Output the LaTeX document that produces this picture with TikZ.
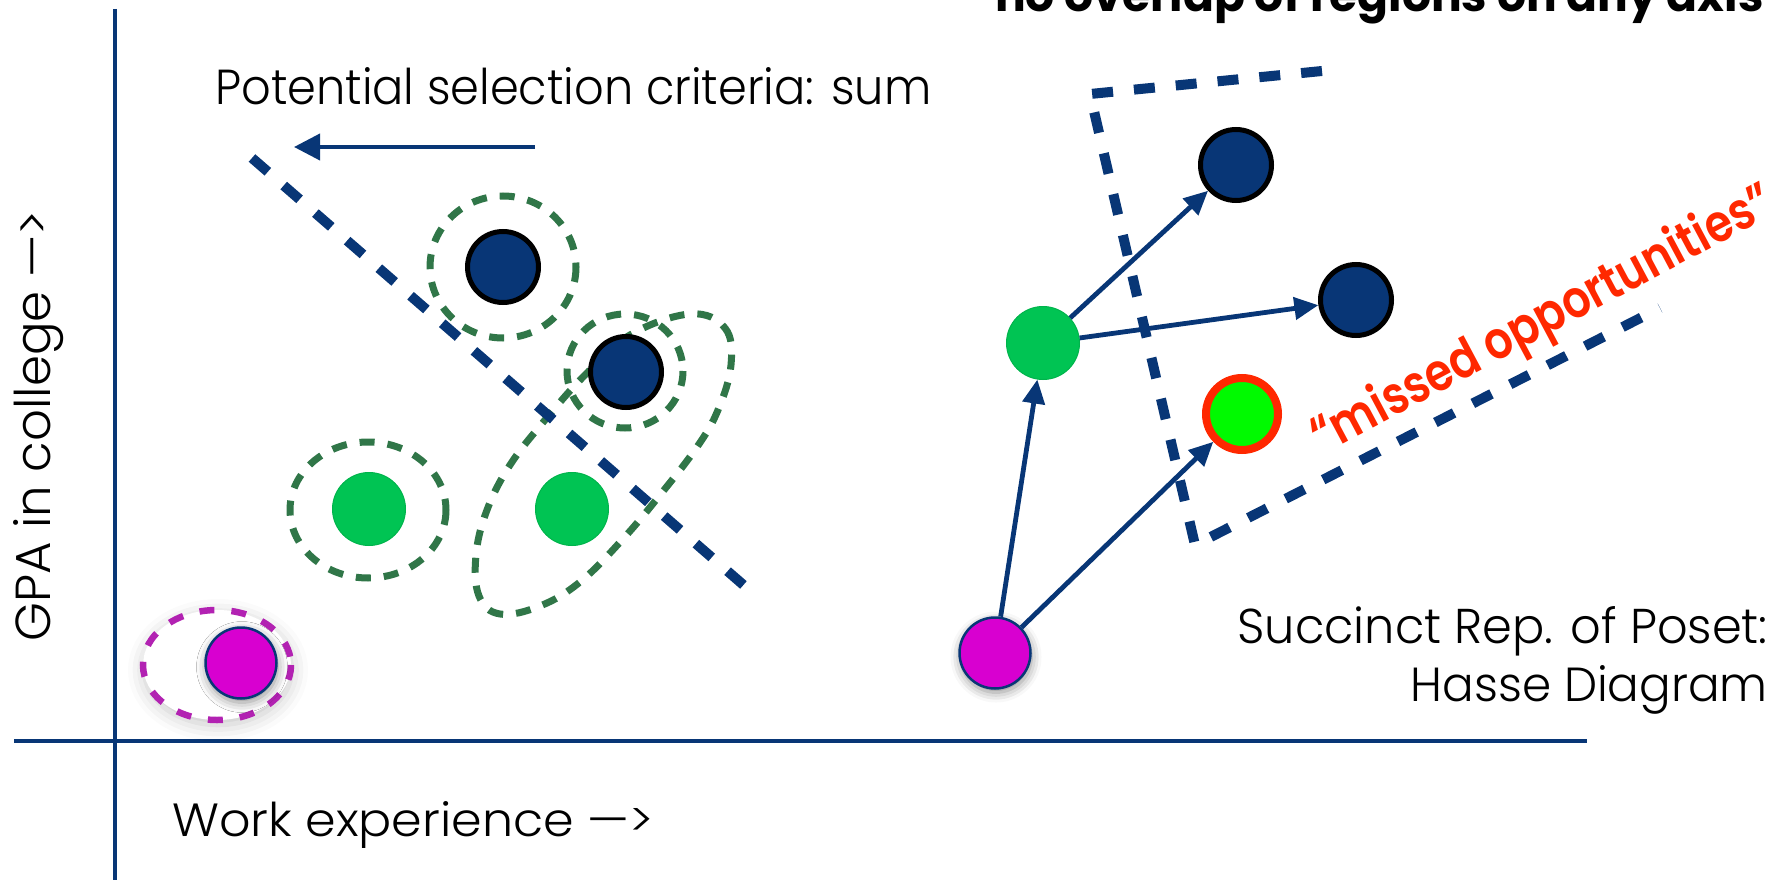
\documentclass[tikz,border=0pt]{standalone}
\usepackage{fontspec}
\setmainfont{Poppins}[UprightFont=* Light, BoldFont=* SemiBold]
\newfontfamily\heavyfont{Poppins}[UprightFont=* Bold]
\usetikzlibrary{arrows.meta,shadows.blur}
\definecolor{navy}{RGB}{8,54,118}
\definecolor{gnode}{RGB}{0,196,83}
\definecolor{gdashc}{RGB}{48,118,72}
\definecolor{limec}{RGB}{0,250,0}
\definecolor{redc}{RGB}{255,40,0}
\definecolor{magf}{RGB}{216,0,208}
\definecolor{magd}{RGB}{178,34,178}
\begin{document}
\begin{tikzpicture}[x=1pt,y=-1pt,
  navynode/.style={circle,fill=navy,draw=black,line width=5pt,minimum size=71pt,inner sep=0pt},
  greennode/.style={circle,fill=gnode,draw=gnode!92!black,line width=1pt,minimum size=73pt,inner sep=0pt},
  limenode/.style={circle,fill=limec,draw=redc,line width=8pt,minimum size=72pt,inner sep=0pt},
  magnode/.style={circle,fill=magf,draw=navy,line width=2.5pt,minimum size=71pt,inner sep=0pt,
    blur shadow={shadow xshift=1pt,shadow yshift=-4pt,shadow blur radius=10pt,shadow opacity=45}},
  gdash/.style={draw=gdashc,line width=7pt,dash pattern=on 15pt off 13pt},
  bdash/.style={draw=navy,line width=10pt,dash pattern=on 21pt off 21pt},
  mdash/.style={draw=magd,line width=6.5pt,dash pattern=on 15pt off 17pt},
  hasse/.style={draw=navy,line width=4.8pt,-{Triangle[length=24pt,width=22pt]}},
  axisline/.style={draw=navy,line width=4pt},
  lbl/.style={inner sep=0pt,text=black}
]
\useasboundingbox (0,0) rectangle (1789,880);
\clip (0,0) rectangle (1789,880);

% axes
\coordinate (ya) at (115,9);
\coordinate (yb) at (115,880);
\coordinate (xa) at (14,741);
\coordinate (xb) at (1587,741);
\draw[axisline] (ya) -- (yb);
\draw[axisline] (xa) -- (xb);

% labels
\node[lbl,anchor=base west] (crit) at (215,105) {\resizebox{716pt}{37pt}{Potential selection criteria: sum}};
\node[lbl,anchor=base west] (xlab) at (172,836) {\resizebox{481pt}{35pt}{Work experience —>}};
\node[lbl,anchor=base west,rotate=90] (ylab) at (51,642) {\resizebox{431pt}{37pt}{GPA in college —>}};
\node[lbl,anchor=base east] (succ) at (1768,643) {\resizebox{530pt}{37pt}{Succinct Rep. of Poset:}};
\node[lbl,anchor=base east] (hasse) at (1768,701) {\resizebox{357pt}{36pt}{Hasse Diagram}};
\node[lbl,anchor=base west] (note) at (995,12) {\resizebox{768pt}{!}{\heavyfont no overlap of regions on any axis}};
\node[lbl,anchor=base west,rotate=28,text=redc] (missed) at (1322,455) {\resizebox{516pt}{41pt}{\bfseries “missed opportunities”}};

% left cluster: dashed regions
\draw[gdash] (503,267) ellipse [x radius=73, y radius=71];
\draw[gdash] (625,371) ellipse [x radius=58, y radius=57];
\draw[gdash] (368,510) ellipse [x radius=78, y radius=68];
\draw[gdash] plot[smooth cycle, tension=0.65] coordinates {(690,314) (725,328) (731,365) (718,410) (697,447) (660,495) (622,540) (580,582) (540,606) (500,614) (479,596) (476,555) (487,510) (510,465) (545,420) (585,375) (630,335)};
\fill[white, blur shadow={shadow xshift=1pt,shadow yshift=-5pt,shadow blur radius=16pt,shadow opacity=22}] (217,665) ellipse [x radius=74, y radius=55];
\draw[mdash] (217,665) ellipse [x radius=74, y radius=55];

% sum criterion line and arrow
\coordinate (d1) at (252,158);
\coordinate (d2) at (755,595);
\draw[bdash] (d1) -- (d2);
\coordinate (ca) at (535,147);
\coordinate (cb) at (294,147);
\draw[navy,line width=4pt,-{Triangle[length=26pt,width=26pt]}] (ca) -- (cb);

% left cluster nodes
\node[navynode] (lb1) at (503,267) {};
\node[navynode] (lb2) at (626,372) {};
\node[greennode] (lg1) at (369,509) {};
\node[greennode] (lg2) at (572,509) {};
\node[magnode] (lm) at (241,663) {};

% right: skyline region
\coordinate (p1) at (1322,71);
\coordinate (p2) at (1090,94);
\coordinate (p3) at (1195,545);
\coordinate (p4) at (1660,308);
\draw[bdash] (p1) -- (p2) -- (p3) -- (p4);

% Hasse diagram
\node[magnode] (hm) at (995,653) {};
\node[greennode] (hg) at (1043,343) {};
\node[navynode] (ht) at (1236,165) {};
\node[navynode] (hr) at (1356,300) {};
\node[limenode] (hl) at (1242,414) {};
\draw[hasse] (hm) -- (hg);
\draw[hasse] (hm) -- (hl);
\draw[hasse] (hg) -- (ht);
\draw[hasse] (hg) -- (hr);
\end{tikzpicture}
\end{document}
